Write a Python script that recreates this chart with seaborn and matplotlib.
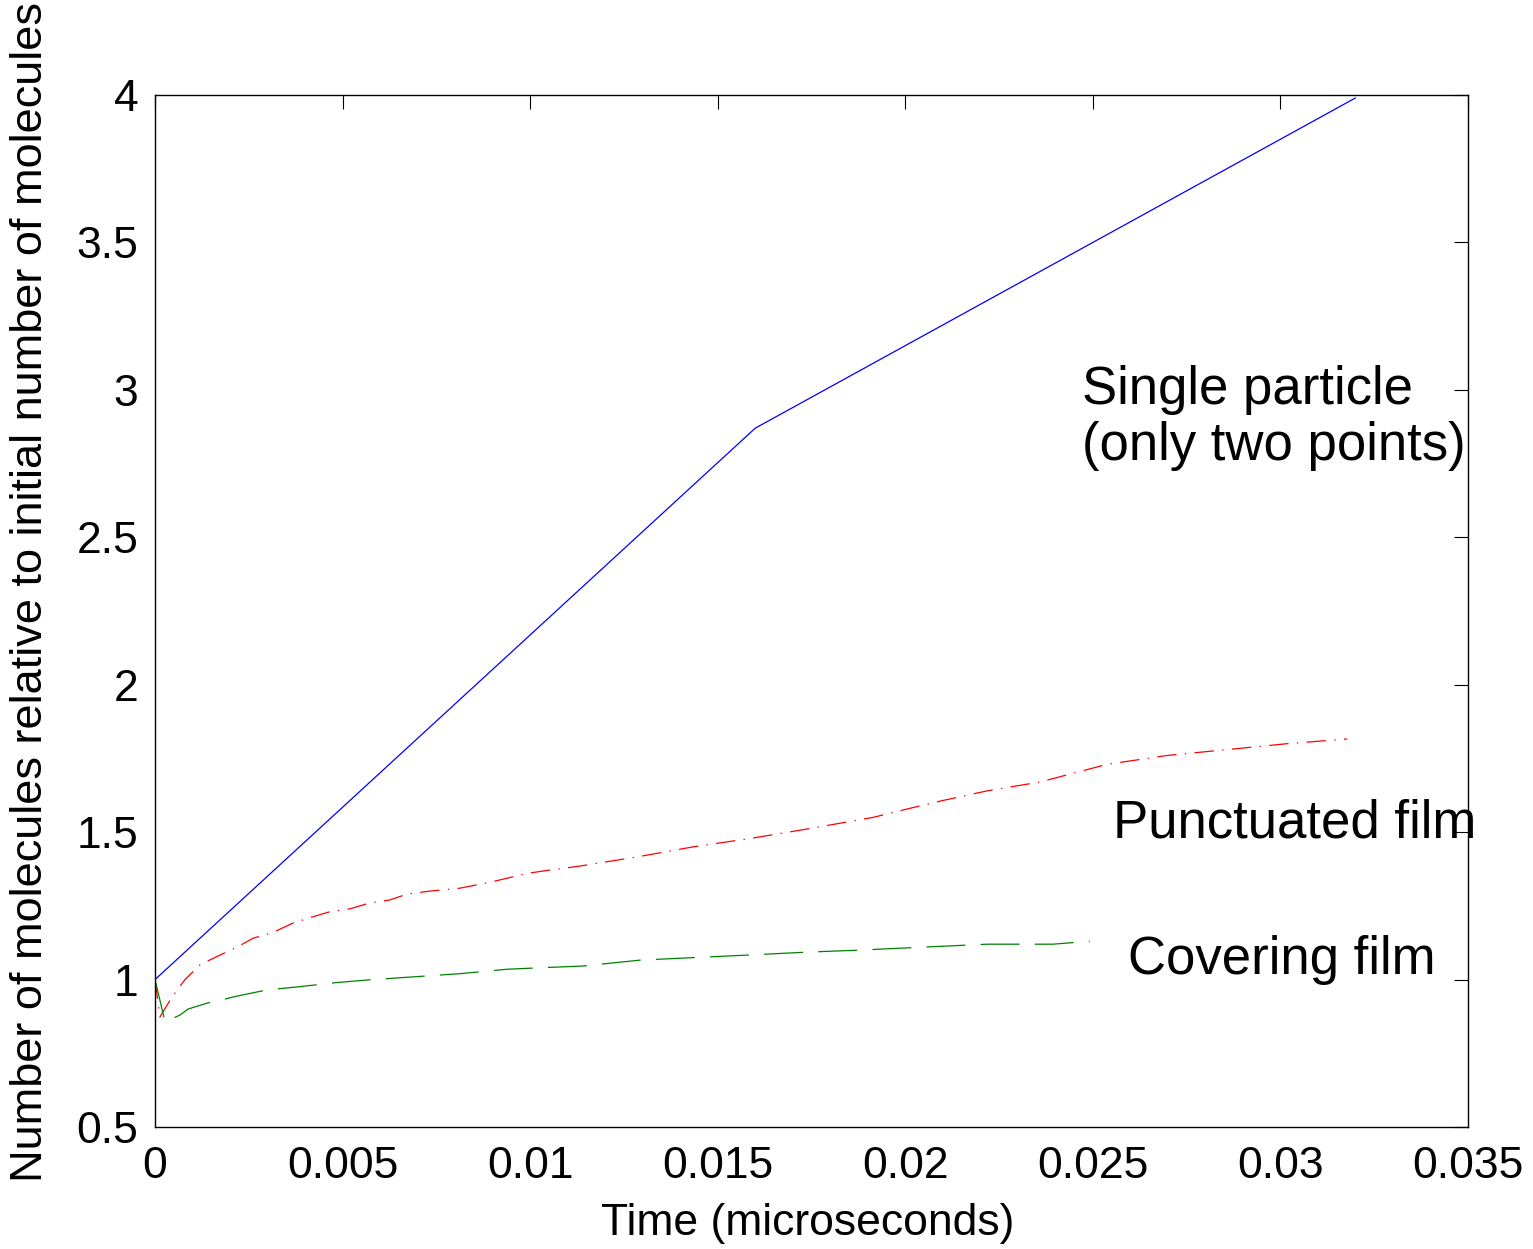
import matplotlib
matplotlib.use("Agg")
import matplotlib.pyplot as plt
import seaborn as sns
import pandas as pd

# ---- data ----
single_t = [0.0, 0.016, 0.032]
single_v = [1.0, 2.87, 3.99]

punct_t = [0.0, 0.00013, 0.00045, 0.0008, 0.0012, 0.00168, 0.00219, 0.00261, 0.00315,
           0.00365, 0.00413, 0.00466, 0.0052, 0.00573, 0.00626, 0.00672, 0.00733, 0.00813,
           0.00893, 0.00992, 0.01034, 0.01133, 0.01285, 0.01434, 0.01594, 0.01754, 0.01914,
           0.02074, 0.02218, 0.02359, 0.02538, 0.02698, 0.02858, 0.03018, 0.03178]
punct_v = [1.0, 0.873, 0.94, 1.0, 1.05, 1.08, 1.11, 1.14, 1.16,
           1.19, 1.21, 1.23, 1.24, 1.26, 1.27, 1.29, 1.30, 1.31,
           1.33, 1.36, 1.368, 1.385, 1.416, 1.45, 1.48, 1.514, 1.55,
           1.60, 1.64, 1.67, 1.73, 1.76, 1.78, 1.80, 1.816]

cover_t = [0.0, 0.00027, 0.00067, 0.00088, 0.00139, 0.00173, 0.00219, 0.00299, 0.00379,
           0.00485, 0.00581, 0.00698, 0.00813, 0.00938, 0.01026, 0.01141, 0.01293, 0.01445,
           0.01578, 0.01738, 0.01879, 0.02047, 0.02218, 0.02394, 0.02492]
cover_v = [1.0, 0.856, 0.88, 0.90, 0.92, 0.93, 0.944, 0.965, 0.975,
           0.99, 1.0, 1.01, 1.02, 1.035, 1.04, 1.046, 1.066, 1.075,
           1.083, 1.093, 1.10, 1.11, 1.12, 1.12, 1.13]

x_ticks = [0, 0.005, 0.01, 0.015, 0.02, 0.025, 0.03, 0.035]
x_ticklabels = ["0", "0.005", "0.01", "0.015", "0.02", "0.025", "0.03", "0.035"]
y_ticks = [0.5, 1, 1.5, 2, 2.5, 3, 3.5, 4]
y_ticklabels = ["0.5", "1", "1.5", "2", "2.5", "3", "3.5", "4"]

# ---- style ----
sns.set_theme(style="white")
plt.rcParams["font.family"] = ["Liberation Sans", "DejaVu Sans"]
plt.rcParams["text.color"] = "black"
plt.rcParams["axes.labelcolor"] = "black"
plt.rcParams["xtick.color"] = "black"
plt.rcParams["ytick.color"] = "black"
plt.rcParams["lines.scale_dashes"] = False
plt.rcParams["xtick.direction"] = "in"
plt.rcParams["ytick.direction"] = "in"

fig = plt.figure(figsize=(15.33, 12.49), dpi=100)
ax = fig.add_axes([155/1533, 1 - 1127/1249, (1468-155)/1533, (1127-95)/1249])

df_s = pd.DataFrame({"t": single_t, "v": single_v})
df_p = pd.DataFrame({"t": punct_t, "v": punct_v})
df_c = pd.DataFrame({"t": cover_t, "v": cover_v})

sns.lineplot(data=df_s, x="t", y="v", ax=ax, color="blue", lw=0.9, sort=False, estimator=None)
sns.lineplot(data=df_p, x="t", y="v", ax=ax, color="red", lw=0.9, sort=False, estimator=None)
ax.lines[-1].set_dashes([14, 6, 1, 6])
sns.lineplot(data=df_c, x="t", y="v", ax=ax, color="green", lw=0.9, sort=False, estimator=None)
ax.lines[-1].set_dashes([28, 11])

ax.set_xlim(0, 0.035)
ax.set_ylim(0.5, 4)
ax.set_xticks(x_ticks)
ax.set_xticklabels(x_ticklabels)
ax.set_yticks(y_ticks)
ax.set_yticklabels(y_ticklabels)
ax.tick_params(axis="both", which="major", labelsize=32, length=10, width=0.8,
               color="black", labelcolor="black", top=True, right=True)
ax.tick_params(axis="x", pad=14)
ax.tick_params(axis="y", pad=12)
for sp in ax.spines.values():
    sp.set_color("black")
    sp.set_linewidth(1.0)

ax.set_xlabel("Time (microseconds)", fontsize=32, color="black")
ax.set_ylabel("Number of molecules relative to initial number of molecules", fontsize=32.5,
              color="black")
ax.xaxis.set_label_coords(0.497, -0.074)
ax.yaxis.set_label_coords(-0.079, 0.518)

ax.text(0.02471, 2.905, "Single particle\n(only two points)", fontsize=38,
        ha="left", va="center", linespacing=1.15, color="black")
ax.text(0.02554, 1.531, "Punctuated film", fontsize=38, ha="left", va="center", color="black")
ax.text(0.02594, 1.066, "Covering film", fontsize=38, ha="left", va="center", color="black")

fig.savefig("out.png", dpi=100)
